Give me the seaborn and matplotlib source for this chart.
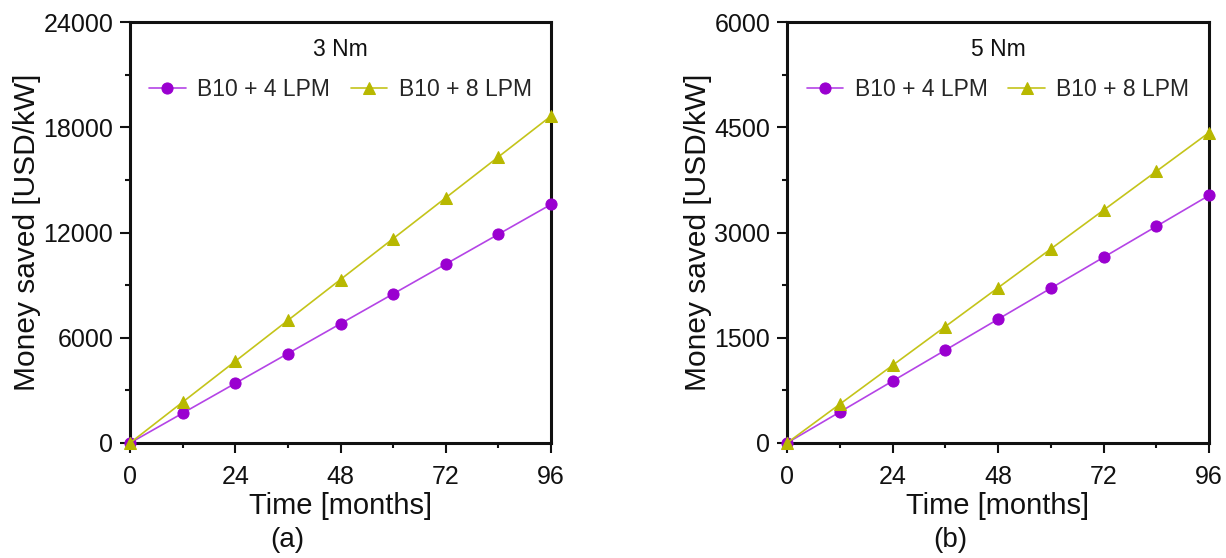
import numpy as np
import pandas as pd
import matplotlib
matplotlib.use("Agg")
import matplotlib.pyplot as plt
import seaborn as sns
from matplotlib.ticker import MultipleLocator

sns.set_theme(style="ticks")
plt.rcParams["font.family"] = ["Liberation Sans", "DejaVu Sans"]

months = [0, 12, 24, 36, 48, 60, 72, 84, 96]

# Cumulative savings at 3 Nm load
saved_3nm_4lpm = [0, 1700, 3400, 5100, 6800, 8500, 10200, 11900, 13600]
saved_3nm_8lpm = [0, 2330, 4660, 6990, 9320, 11650, 13980, 16310, 18640]

# Cumulative savings at 5 Nm load
saved_5nm_4lpm = [0, 441, 882, 1323, 1764, 2205, 2646, 3087, 3528]
saved_5nm_8lpm = [0, 553, 1106, 1659, 2212, 2765, 3318, 3871, 4424]

series_names = ["B10 + 4 LPM", "B10 + 8 LPM"]
panel_titles = ["3 Nm", "5 Nm"]
panel_tags = ["(a)", "(b)"]
y_limits = [24000, 6000]
y_steps = [6000, 1500]

purple_line = "#B444E6"
purple_mark = "#9A00D0"
olive_line = "#C4C41A"
olive_mark = "#B8B800"


def make_frame(a, b):
    return pd.DataFrame({
        "Time": months * 2,
        "Saved": a + b,
        "Series": [series_names[0]] * len(months) + [series_names[1]] * len(months),
    })


frames = [make_frame(saved_3nm_4lpm, saved_3nm_8lpm),
          make_frame(saved_5nm_4lpm, saved_5nm_8lpm)]

W, H = 1226, 558
fig = plt.figure(figsize=(W / 100, H / 100), dpi=100)
# axes boxes in pixel terms: (left, top, right, bottom)
px_boxes = [(130, 22, 551, 443), (787, 22, 1209, 443)]
tag_x = [287, 950]

for i in range(2):
    l, t, r, b = px_boxes[i]
    ax = fig.add_axes([l / W, 1 - b / H, (r - l) / W, (b - t) / H])
    df = frames[i]
    styles = [(purple_line, purple_mark, "o", 8), (olive_line, olive_mark, "^", 8)]
    for (name, (lc, mc, mk, ms)) in zip(series_names, styles):
        sub = df[df["Series"] == name]
        sns.lineplot(data=sub, x="Time", y="Saved", ax=ax, color=lc, lw=1.2,
                     marker=mk, markersize=ms, markerfacecolor=mc,
                     markeredgecolor=mc, label=name, clip_on=False, zorder=3)

    ax.set_xlim(0, 96)
    ax.set_ylim(0, y_limits[i])
    ax.xaxis.set_major_locator(MultipleLocator(24))
    ax.xaxis.set_minor_locator(MultipleLocator(12))
    ax.yaxis.set_major_locator(MultipleLocator(y_steps[i]))
    ax.yaxis.set_minor_locator(MultipleLocator(y_steps[i] / 2))
    ax.tick_params(axis="both", which="major", direction="out", length=7,
                   width=1.5, labelsize=18, color="#111111",
                   labelcolor="#111111")
    ax.tick_params(axis="x", which="major", pad=9)
    ax.tick_params(axis="y", which="major", pad=5)
    ax.tick_params(axis="both", which="minor", direction="out", length=3.5,
                   width=1.5, color="#111111")
    for sp in ax.spines.values():
        sp.set_linewidth(2.2)
        sp.set_color("#111111")
        sp.set_visible(True)

    ax.set_xlabel("Time [months]", fontsize=21, labelpad=2, color="#111111")
    ax.set_ylabel("Money saved [USD/kW]", fontsize=21.5, labelpad=2,
                  color="#111111")

    ax.legend(loc="center", bbox_to_anchor=(0.5, (b - 90) / (b - t)), ncol=2,
              frameon=False, fontsize=16.5, handlelength=1.6,
              columnspacing=0.9, handletextpad=0.5, borderaxespad=0,
              borderpad=0)
    ax.text(0.5, (b - 50) / (b - t), panel_titles[i], transform=ax.transAxes,
            fontsize=16.5, ha="center", va="center", color="#111111")

    ax.text((tag_x[i] - l) / (r - l), (b - 540) / (b - t), panel_tags[i],
            transform=ax.transAxes, fontsize=20, ha="center", va="center",
            color="#111111")

fig.savefig("out.png", dpi=100)
